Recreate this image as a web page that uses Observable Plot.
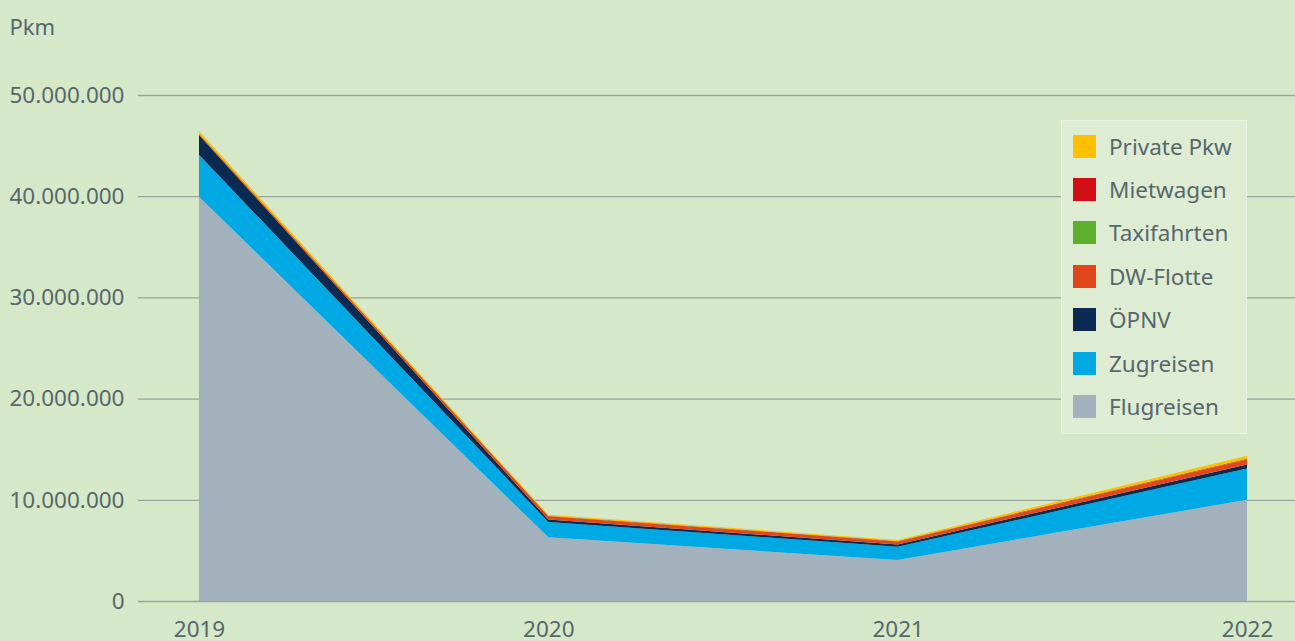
<!DOCTYPE html>
<html>
<head>
<meta charset="utf-8">
<script src="https://cdn.jsdelivr.net/npm/d3@7"></script>
<script src="https://cdn.jsdelivr.net/npm/@observablehq/plot@0.6"></script>
<style>
  html, body { margin: 0; padding: 0; background: #d5e8c8; }
  #wrap { position: relative; width: 1295px; height: 641px; overflow: hidden; font-family: "Noto Sans", sans-serif; }
  #legend { position: absolute; left: 1061px; top: 120px; width: 186px; height: 314px; background: #deecd3; border: 1px solid #e9f2e2; box-sizing: border-box; }
  .item { position: absolute; left: 11px; height: 24px; display: flex; align-items: center; font-size: 22.5px; color: #56676c; white-space: nowrap; }
  .sw { width: 23px; height: 23px; margin-right: 13px; flex: none; }
</style>
</head>
<body>
<div id="wrap"></div>
<script>
const years = [2019, 2020, 2021, 2022];
const series = ["Flugreisen", "Zugreisen", "ÖPNV", "DW-Flotte", "Taxifahrten", "Mietwagen", "Private Pkw"];
const colors = ["#a3b1bd", "#00a8e4", "#0b2a52", "#e3461b", "#5db02d", "#d10f14", "#ffc000"];
const flugreisen = [39950000, 6300000, 4050000, 10000000];
const zugreisen  = [4150000, 1500000, 1320000, 3100000];
const oepnv      = [1950000, 250000, 220000, 400000];
const dwFlotte   = [80000, 330000, 300000, 480000];
const taxifahrten= [30000, 20000, 20000, 30000];
const mietwagen  = [40000, 20000, 20000, 50000];
const privatePkw = [250000, 100000, 100000, 300000];
const yTicks = [0, 10000000, 20000000, 30000000, 40000000, 50000000];

const valuesBySeries = [flugreisen, zugreisen, oepnv, dwFlotte, taxifahrten, mietwagen, privatePkw];
const data = [];
series.forEach((s, i) => years.forEach((yr, j) => data.push({series: s, year: yr, value: valuesBySeries[i][j]})));

const textColor = "#56676c";
const chart = Plot.plot({
  width: 1295,
  height: 641,
  marginLeft: 138,
  marginRight: 0,
  marginTop: 95,
  marginBottom: 40,
  style: {background: "#d5e8c8", color: textColor, fontFamily: "Noto Sans", fontSize: "22.5px", overflow: "visible"},
  x: {type: "linear", domain: [2018.8254, 2022.1374]},
  y: {domain: [0, 50000000]},
  color: {domain: series, range: colors},
  marks: [
    Plot.ruleY(yTicks, {stroke: "#9aa39a", strokeWidth: 1.3}),
    Plot.areaY(data, {x: "year", y: "value", fill: "series", order: series, curve: "linear"}),
    Plot.axisY({ticks: yTicks, tickSize: 0, tickPadding: 14, tickFormat: d => d.toLocaleString("de-DE"), label: null, fill: textColor}),
    Plot.axisX({ticks: years, tickSize: 0, tickPadding: 20, tickFormat: d => String(d), label: null, fill: textColor}),
    Plot.text(["Pkm"], {frameAnchor: "top-left", textAnchor: "start", dx: -129, dy: -76, fill: textColor, fontSize: 22})
  ]
});
const wrap = document.getElementById("wrap");
wrap.appendChild(chart);

const legend = document.createElement("div");
legend.id = "legend";
const order = series.slice().reverse();
order.forEach((s, k) => {
  const it = document.createElement("div");
  it.className = "item";
  it.style.top = (13 + k * 43.4) + "px";
  const sw = document.createElement("div");
  sw.className = "sw";
  sw.style.background = colors[series.indexOf(s)];
  const t = document.createElement("span");
  t.textContent = s;
  it.appendChild(sw); it.appendChild(t);
  legend.appendChild(it);
});
wrap.appendChild(legend);
</script>
</body>
</html>
